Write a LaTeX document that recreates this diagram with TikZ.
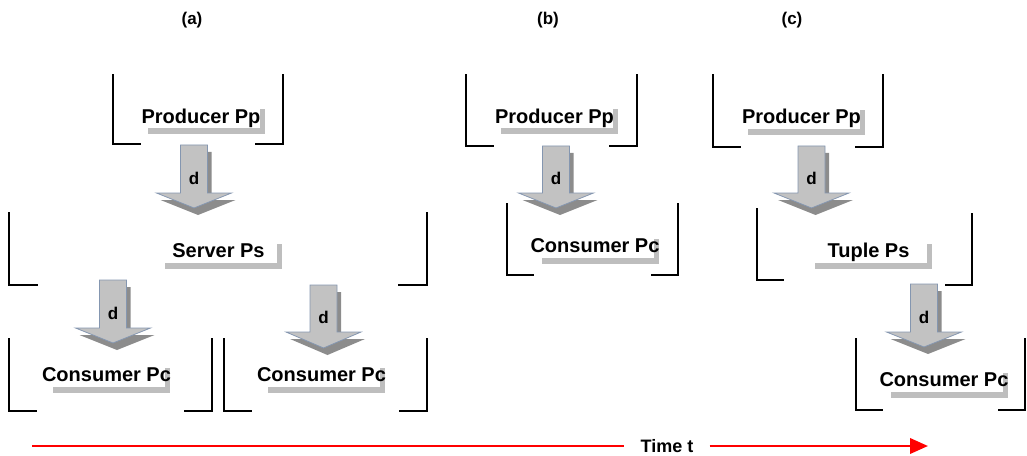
\documentclass[tikz,border=0pt]{standalone}
\usepackage{fontspec}
\setmainfont{Liberation Sans}
\usetikzlibrary{shadows,arrows.meta}

\definecolor{boxshadow}{HTML}{BEBEBE}
\definecolor{arrowfill}{HTML}{C2C2C2}
\definecolor{arrowedge}{HTML}{8496B0}
\definecolor{arrowshade}{HTML}{8C8C8C}
\definecolor{timered}{HTML}{FF0000}

% process bracket: left and right uprights with short feet
\newcommand\procbracket[7]{% xl, ytopL, ybotL, xr, ytopR, ybotR, foot
  \draw[bracketline] (#1,#2) -- (#1,#3) -- ++(#7,0);
  \draw[bracketline] (#4,#5) -- (#4,#6) -- ++(-#7,0);
}

% block arrow carrying a data item, with its label node
\newcommand\blockarrow[5]{% cx, ytop, yhead, ytip, label name
  \fill[arrowshade, shift={(4,7)}]
    (#1-13.5,#2) -- (#1+13.5,#2) -- (#1+13.5,#3) -- (#1+37.5,#3) --
    (#1,#4) -- (#1-37.5,#3) -- (#1-13.5,#3) -- cycle;
  \draw[arrowedge, fill=arrowfill, line width=0.6pt]
    (#1-13.5,#2) -- (#1+13.5,#2) -- (#1+13.5,#3) -- (#1+37.5,#3) --
    (#1,#4) -- (#1-37.5,#3) -- (#1-13.5,#3) -- cycle;
  \node[dlabel] (#5) at (#1,#3-15) {d};
}

\begin{document}
\begin{tikzpicture}[x=0.75pt, y=-0.75pt,
  bracketline/.style={line width=1.5pt, black, line cap=rect},
  proclabel/.style={fill=white, inner sep=0pt, minimum height=18.75pt,
    text height=10.75pt, text depth=0pt,
    font=\bfseries\fontsize{15pt}{18pt}\selectfont,
    drop shadow={shadow xshift=3.75pt, shadow yshift=-4.5pt,
      fill=boxshadow, opacity=1}},
  dlabel/.style={inner sep=0pt, font=\bfseries\fontsize{12.75pt}{15pt}\selectfont},
  caselabel/.style={inner sep=0pt, font=\bfseries\fontsize{12.75pt}{15pt}\selectfont},
  timelabel/.style={inner xsep=12pt, inner ysep=0pt,
    font=\bfseries\fontsize{13.5pt}{16pt}\selectfont},
  timeline/.style={timered, line width=2pt}
]
\useasboundingbox (0,0) rectangle (1027,456);

\newcommand\plabel[1]{\makebox[87.75pt]{#1}}

% case labels
\node[caselabel] (lbla) at (192,20) {(a)};
\node[caselabel] (lblb) at (548,20) {(b)};
\node[caselabel] (lblc) at (792,20) {(c)};

% (a) producer, server and two consumers
\procbracket{113}{75}{144}{283}{75}{144}{27}
\node[proclabel] (prodA) at (201,116) {\plabel{Producer Pp}};
\blockarrow{194}{145}{193}{208}{dA}
\procbracket{9}{213}{285}{427}{213}{285}{28}
\node[proclabel] (server) at (218.5,250) {\plabel{Server Ps}};
\blockarrow{113}{280}{328}{343}{dA1}
\blockarrow{323.5}{285}{332}{348}{dA2}
\procbracket{9}{339}{411}{212}{339}{411}{27}
\node[proclabel] (consA1) at (106.5,374.5) {\plabel{Consumer Pc}};
\procbracket{224}{339}{411}{427}{339}{411}{27}
\node[proclabel] (consA2) at (321.5,374.5) {\plabel{Consumer Pc}};

% (b) producer and consumer
\procbracket{466}{75}{146}{637}{75}{146}{27}
\node[proclabel] (prodB) at (554.5,116) {\plabel{Producer Pp}};
\blockarrow{556}{146}{193}{208}{dB}
\procbracket{507}{204}{275}{678}{204}{275}{26}
\node[proclabel] (consB) at (595,245) {\plabel{Consumer Pc}};

% (c) producer, tuple space and consumer
\procbracket{713}{75}{147}{883}{75}{147}{27}
\node[proclabel] (prodC) at (801.5,116.5) {\plabel{Producer Pp}};
\blockarrow{811.5}{146}{193}{208}{dC1}
\procbracket{757}{209}{280}{972}{214}{285}{26}
\node[proclabel] (tuple) at (868.5,250) {\plabel{Tuple Ps}};
\blockarrow{924}{284}{332}{347}{dC2}
\procbracket{856}{339}{410}{1025}{339}{410}{26}
\node[proclabel] (consC) at (944,379.5) {\plabel{Consumer Pc}};

% time axis
\coordinate (tstart) at (32,446);
\coordinate (tend) at (928,446);
\node[timelabel] (time) at (667,446) {Time t};
\draw[timeline] (tstart) -- (time.west);
\draw[timeline, -{Triangle[length=13.5pt, width=11.5pt]}] (time.east) -- (tend);
\end{tikzpicture}
\end{document}
